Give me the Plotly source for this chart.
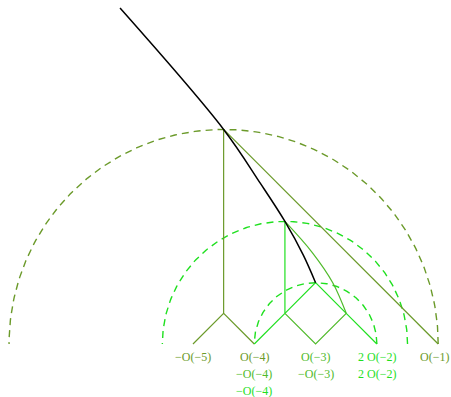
import numpy as np
import plotly.graph_objects as go

OLIVE = "#6b9a2a"
MED = "#4fba2a"
BRIGHT = "#1fe01f"

# Walls: semicircles on the axis (centre, radius, colour)
wall_centres = [-4.5, -3.5, -3.0]
wall_radii = [3.5, 2.0, 1.0]
wall_colours = [OLIVE, BRIGHT, BRIGHT]

# Polyline edges of the tree (x list, y list, colour)
edges = [
    ([-5.0, -4.5, -4.0], [0.0, 0.5, 0.0], OLIVE),
    ([-4.5, -4.5], [0.5, 3.5], OLIVE),
    ([-4.5, -1.0], [3.5, 0.0], OLIVE),
    ([-4.0, -3.5], [0.0, 0.5], BRIGHT),
    ([-3.5, -3.5], [0.5, 2.0], BRIGHT),
    ([-3.5, -3.0, -2.5, -2.0], [0.5, 1.0, 0.5, 0.0], BRIGHT),
    ([-3.5, -3.0, -2.5], [0.5, 0.0, 0.5], MED),
]

# Curved edge from (-3.5, 2) down to (-2.5, 0.5)
arc_x = [-3.5, -3.06, -2.72, -2.5]
arc_y = [2.0, 1.5, 1.0, 0.5]

# Black boundary curve
curve_x = [-6.19, -4.5, -3.9, -3.5, -3.2, -3.0]
curve_y = [5.48, 3.5, 2.62, 2.0, 1.45, 1.0]

# Object labels under each slope
label_x = [-5, -4, -3, -2, -1]
label_rows = [
    ["\u2212O(\u22125)"],
    ["O(\u22124)", "\u2212O(\u22124)", "\u2212O(\u22124)"],
    ["O(\u22123)", "\u2212O(\u22123)"],
    ["2 O(\u22122)", "2 O(\u22122)"],
    ["O(\u22121)"],
]
label_colours = [
    [OLIVE],
    [OLIVE, MED, BRIGHT],
    [MED, MED],
    [BRIGHT, BRIGHT],
    [OLIVE],
]

fig = go.Figure()

theta = np.linspace(0, np.pi, 200)
for c, r, col in zip(wall_centres, wall_radii, wall_colours):
    fig.add_trace(go.Scatter(
        x=c + r * np.cos(theta), y=r * np.sin(theta), mode="lines",
        line=dict(color=col, width=1.4, dash="7px,5px"), hoverinfo="skip"))

for xs, ys, col in edges:
    fig.add_trace(go.Scatter(x=xs, y=ys, mode="lines",
                             line=dict(color=col, width=1.2), hoverinfo="skip"))

fig.add_trace(go.Scatter(x=arc_x, y=arc_y, mode="lines",
                         line=dict(color=MED, width=1.2, shape="spline", smoothing=1.0),
                         hoverinfo="skip"))

fig.add_trace(go.Scatter(x=curve_x, y=curve_y, mode="lines",
                         line=dict(color="black", width=1.5, shape="spline", smoothing=1.0),
                         hoverinfo="skip"))

for x, rows, cols in zip(label_x, label_rows, label_colours):
    # keep the rightmost label inside the page
    xs = -4 if x == label_x[-1] else 0
    for i, (txt, col) in enumerate(zip(rows, cols)):
        fig.add_annotation(x=x, y=0, text=txt, showarrow=False,
                           xanchor="center", yanchor="middle",
                           xshift=xs, yshift=-(13 + 17 * i), borderpad=0,
                           font=dict(family="Liberation Serif", size=12, color=col))

fig.update_layout(
    width=451, height=397, margin=dict(l=0, r=0, t=0, b=0),
    paper_bgcolor="white", plot_bgcolor="white", showlegend=False,
    xaxis=dict(range=[-8.148, -0.791], visible=False, fixedrange=True),
    yaxis=dict(range=[-0.865, 5.612], visible=False, fixedrange=True),
)

fig.write_html("out.html")
